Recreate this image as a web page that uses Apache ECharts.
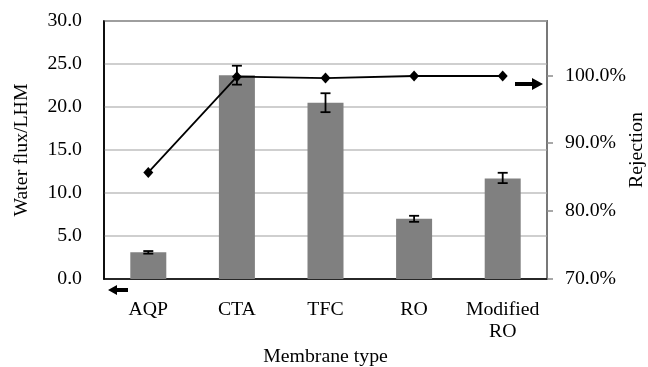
<!DOCTYPE html>
<html>
<head>
<meta charset="utf-8">
<script src="https://cdn.jsdelivr.net/npm/echarts@6/dist/echarts.min.js"></script>
<style>
html,body{margin:0;padding:0;background:#fff;}
#main{width:648px;height:367px;}
</style>
</head>
<body>
<div id="main"></div>
<script>
var categories = ['AQP', 'CTA', 'TFC', 'RO', 'Modified\nRO'];
var fluxValues = [3.1, 23.7, 20.5, 7.0, 11.7];
var fluxErrLow = [2.95, 22.6, 19.4, 6.65, 11.15];
var fluxErrHigh = [3.25, 24.8, 21.6, 7.35, 12.35];
var rejectionValues = [85.7, 99.8, 99.6, 99.9, 99.9];
var fluxTicks = [0, 5, 10, 15, 20, 25, 30];
var rejectionTicks = [70, 80, 90, 100];

var FONT = 'Liberation Serif';
var FS = 19.8;
var chart = echarts.init(document.getElementById('main'), null, {renderer: 'canvas'});

var errData = categories.map(function (c, i) { return [i, fluxErrLow[i], fluxErrHigh[i]]; });

var option = {
  backgroundColor: '#fff',
  animation: false,
  textStyle: {fontFamily: FONT, color: '#000'},
  grid: {left: 104, right: 101, top: 21, bottom: 88, show: true, borderColor: '#000', borderWidth: 1.5,
    backgroundColor: 'transparent', containLabel: false, outerBoundsMode: 'none'},
  xAxis: {
    type: 'category',
    data: categories,
    name: 'Membrane type',
    nameLocation: 'middle',
    nameGap: 68,
    nameMoveOverlap: false,
    nameTextStyle: {fontFamily: FONT, fontSize: FS, color: '#000'},
    axisLine: {lineStyle: {color: '#000', width: 1.5}},
    axisTick: {show: false},
    axisLabel: {fontFamily: FONT, fontSize: FS, color: '#000', margin: 20, lineHeight: 22, interval: 0}
  },
  yAxis: [{
    type: 'value',
    min: 0, max: 30, interval: 5,
    name: 'Water flux/LHM',
    nameLocation: 'middle',
    nameGap: 72,
    nameRotate: 90,
    nameMoveOverlap: false,
    nameTextStyle: {fontFamily: FONT, fontSize: FS, color: '#000'},
    axisLine: {show: true, lineStyle: {color: '#000', width: 1.5}},
    axisTick: {show: false},
    axisLabel: {fontFamily: FONT, fontSize: FS, color: '#000', margin: 22, customValues: fluxTicks,
      formatter: function (v) { return v.toFixed(1); }},
    splitLine: {show: true, lineStyle: {color: '#bfbfbf', width: 1.5}}
  }, {
    type: 'value',
    min: 70, max: 108, interval: 10,
    position: 'right',
    name: 'Rejection',
    nameLocation: 'middle',
    nameGap: 80,
    nameRotate: 90,
    nameMoveOverlap: false,
    nameTextStyle: {fontFamily: FONT, fontSize: FS, color: '#000'},
    axisLine: {show: true, lineStyle: {color: '#8c8c8c', width: 1.5}},
    axisTick: {show: true, length: 6, customValues: rejectionTicks, lineStyle: {color: '#8c8c8c', width: 1.5}},
    axisLabel: {fontFamily: FONT, fontSize: FS, color: '#000', margin: 18, customValues: rejectionTicks,
      formatter: function (v) { return v.toFixed(1) + '%'; }},
    splitLine: {show: false}
  }],
  series: [{
    type: 'bar',
    data: fluxValues,
    yAxisIndex: 0,
    barWidth: 36,
    itemStyle: {color: '#808080'},
    z: 2
  }, {
    type: 'custom',
    yAxisIndex: 0,
    data: errData,
    z: 3,
    renderItem: function (params, api) {
      var x = api.value(0);
      var lo = api.coord([x, api.value(1)]);
      var hi = api.coord([x, api.value(2)]);
      var hw = 5;
      var st = {stroke: '#000', lineWidth: 1.8};
      return {type: 'group', children: [
        {type: 'line', shape: {x1: lo[0], y1: lo[1], x2: hi[0], y2: hi[1]}, style: st},
        {type: 'line', shape: {x1: lo[0] - hw, y1: lo[1], x2: lo[0] + hw, y2: lo[1]}, style: st},
        {type: 'line', shape: {x1: hi[0] - hw, y1: hi[1], x2: hi[0] + hw, y2: hi[1]}, style: st}
      ]};
    }
  }, {
    type: 'line',
    yAxisIndex: 1,
    data: rejectionValues,
    symbol: 'diamond',
    symbolSize: [10, 11],
    clip: false,
    showAllSymbol: true,
    itemStyle: {color: '#000'},
    lineStyle: {color: '#000', width: 1.8},
    z: 4
  }],
  graphic: [{
    type: 'polygon',
    shape: {points: [[515, 82], [532, 82], [532, 78], [543, 84], [532, 90], [532, 86], [515, 86]]},
    style: {fill: '#000'}
  }, {
    type: 'polygon',
    shape: {points: [[108, 290], [117, 285], [117, 288], [128, 288], [128, 292], [117, 292], [117, 295]]},
    style: {fill: '#000'}
  }]
};
chart.setOption(option);
</script>
</body>
</html>
